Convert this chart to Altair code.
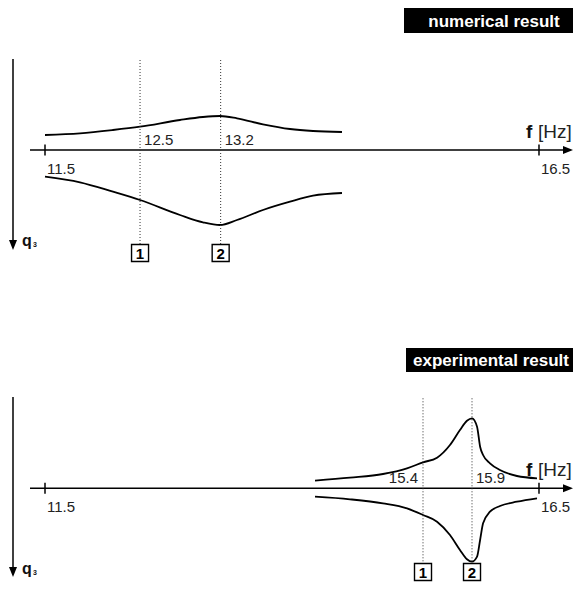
import altair as alt
import pandas as pd

# ---------------- data ----------------
# frequency axis
tick_freqs = [11.5, 16.5]
tick_labels = ["11.5", "16.5"]

# numerical result (top panel): envelope of q3 (arbitrary units, + up)
num_f = [11.5, 11.854, 12.188, 12.462, 12.866, 13.099, 13.271, 13.443, 13.706, 13.980, 14.213, 14.506]
num_upper = [1.5, 1.67, 2.0, 2.33, 3.0, 3.3, 3.4, 3.17, 2.57, 2.1, 1.9, 1.8]
num_lower = [-2.67, -3.23, -4.17, -5.0, -6.5, -7.23, -7.5, -7.0, -6.0, -5.17, -4.57, -4.3]
num_marker_f = [12.462, 13.278]
num_marker_labels = ["12.5", "13.2"]
num_marker_side = ["right", "right"]

# experimental result (bottom panel)
exp_f_up = [14.233, 14.587, 14.921, 15.164, 15.326, 15.468, 15.599, 15.700, 15.771, 15.822,
            15.873, 15.904, 15.934, 16.004, 16.105, 16.277, 16.480]
exp_upper = [0.76, 1.06, 1.43, 2.0, 2.6, 3.06, 4.33, 5.83, 6.76, 7.0,
             6.16, 4.16, 3.33, 2.5, 1.83, 1.23, 1.0]
exp_f_lo = [14.233, 14.587, 14.921, 15.164, 15.326, 15.468, 15.599, 15.700, 15.771, 15.822,
            15.873, 15.904, 15.934, 16.004, 16.105, 16.277, 16.480]
exp_lower = [-0.84, -1.1, -1.5, -2.0, -2.67, -3.34, -4.67, -6.17, -7.1, -7.34,
             -6.84, -5.17, -3.5, -2.34, -1.77, -1.34, -1.0]
exp_marker_f = [15.326, 15.822]
exp_marker_labels = ["15.4", "15.9"]
exp_marker_side = ["left", "right"]

marker_numbers = ["1", "2"]
titles = ["numerical result", "experimental result"]

# ---------------- chart building ----------------
FONT = "Liberation Sans"
W = 565
XMIN, XMAX = 11.1255, 16.8442
xs = alt.Scale(domain=[XMIN, XMAX], nice=False, zero=False, padding=0)

ARROW_DOWN = "M-0.8,-1L0.8,-1L0,1Z"
ARROW_RIGHT = "M-1,-0.8L-1,0.8L1,0Z"


def one():
    return pd.DataFrame({"k": [0]})


def panel(title, f_up, up, f_lo, lo, mk_f, mk_lab, mk_side, height, ydom,
          box_x, box_y0, box_y1, title_x, v_top, v_tip, q_base, mk_top, mk_bot, num_y, lab_y):
    ys = alt.Scale(domain=ydom, nice=False, zero=False, padding=0)
    X = lambda f: alt.X(f, scale=xs, axis=None)

    curves = pd.DataFrame({
        "f": list(f_up) + list(f_lo),
        "q": list(up) + list(lo),
        "branch": ["upper"] * len(f_up) + ["lower"] * len(f_lo),
    })
    markers = pd.DataFrame({"f": mk_f, "label": mk_lab, "side": mk_side, "num": marker_numbers})
    ticks = pd.DataFrame({"f": tick_freqs, "label": tick_labels})

    base_y = alt.Y("q:Q", scale=ys, axis=None)

    layers = []
    # title box
    layers.append(alt.Chart(one()).mark_rect(color="black").encode(
        x=alt.value(box_x), x2=alt.value(W), y=alt.value(box_y0), y2=alt.value(box_y1)))
    layers.append(alt.Chart(pd.DataFrame({"t": [title]})).mark_text(
        color="white", font=FONT, fontWeight="bold", fontSize=17, align="center",
        baseline="middle").encode(
        x=alt.value(title_x), y=alt.value((box_y0 + box_y1) / 2 + 1), text="t:N"))

    # curves (first layer with the y scale defined)
    layers.append(alt.Chart(curves).mark_line(
        interpolate="monotone", color="black", strokeWidth=1.8).encode(
        x=X("f:Q"), y=base_y, detail="branch:N"))

    # frequency axis with arrow
    layers.append(alt.Chart(one()).mark_rule(color="black", strokeWidth=1.5).encode(
        x=alt.value(22), x2=alt.value(558), y=alt.datum(0)))
    layers.append(alt.Chart(one()).mark_point(
        shape=ARROW_RIGHT, filled=True, color="black", size=100, opacity=1).encode(
        x=alt.value(560), y=alt.datum(0)))
    layers.append(alt.Chart(ticks).mark_rule(color="black", strokeWidth=1.5).encode(
        x=X("f:Q"), y=alt.datum(0.55), y2=alt.datum(-0.55)))
    layers.append(alt.Chart(ticks).mark_text(
        align="left", baseline="middle", dx=2, font=FONT, fontSize=15, color="#222").encode(
        x=X("f:Q"), y=alt.datum(lab_y), text="label:N"))

    # axis title f [Hz]
    layers.append(alt.Chart(pd.DataFrame({"t": ["f"]})).mark_text(
        align="left", baseline="alphabetic", font=FONT, fontWeight="bold", fontSize=19,
        color="#111").encode(x=alt.value(518), y=alt.datum(1.2), text="t:N"))
    layers.append(alt.Chart(pd.DataFrame({"t": ["[Hz]"]})).mark_text(
        align="left", baseline="alphabetic", font=FONT, fontSize=19,
        color="#222").encode(x=alt.value(530), y=alt.datum(1.2), text="t:N"))

    # q3 axis arrow
    layers.append(alt.Chart(one()).mark_rule(color="black", strokeWidth=1.5).encode(
        x=alt.value(5), y=alt.value(v_top), y2=alt.value(v_tip - 6)))
    layers.append(alt.Chart(one()).mark_point(
        shape=ARROW_DOWN, filled=True, color="black", size=100, opacity=1).encode(
        x=alt.value(5), y=alt.value(v_tip - 5)))
    layers.append(alt.Chart(pd.DataFrame({"t": ["q"]})).mark_text(
        align="left", baseline="alphabetic", font=FONT, fontWeight="bold", fontSize=16,
        color="#111").encode(x=alt.value(14), y=alt.value(q_base), text="t:N"))
    layers.append(alt.Chart(pd.DataFrame({"t": ["3"]})).mark_text(
        align="left", baseline="alphabetic", font=FONT, fontWeight="bold", fontSize=7,
        color="#111").encode(x=alt.value(25), y=alt.value(q_base + 1), text="t:N"))

    # dotted marker lines
    layers.append(alt.Chart(markers).mark_rule(
        color="#333", strokeWidth=1, strokeDash=[1, 2]).encode(
        x=X("f:Q"), y=alt.datum(mk_top), y2=alt.datum(mk_bot)))
    # marker value labels
    layers.append(alt.Chart(markers).transform_filter(alt.datum.side == "right").mark_text(
        align="left", baseline="middle", dx=4, font=FONT, fontSize=15, color="#222").encode(
        x=X("f:Q"), y=alt.datum(1.0), text="label:N"))
    layers.append(alt.Chart(markers).transform_filter(alt.datum.side == "left").mark_text(
        align="right", baseline="middle", dx=-5, font=FONT, fontSize=15, color="#222").encode(
        x=X("f:Q"), y=alt.datum(1.0), text="label:N"))
    # numbered boxes
    layers.append(alt.Chart(markers).mark_square(
        size=289, fill="white", stroke="black", strokeWidth=1.4, opacity=1).encode(
        x=X("f:Q"), y=alt.datum(num_y)))
    layers.append(alt.Chart(markers).mark_text(
        align="center", baseline="middle", dy=1, font=FONT, fontWeight="bold", fontSize=15,
        color="black").encode(x=X("f:Q"), y=alt.datum(num_y), text="num:N"))

    return alt.layer(*layers).properties(width=W, height=height)


# top panel: local 0 = page y 8, axis at local 142 (10 px per unit)
top = panel(titles[0], num_f, num_upper, num_f, num_lower, num_marker_f, num_marker_labels,
            num_marker_side, height=336, ydom=[-19.4, 14.2], box_x=396, box_y0=0, box_y1=25,
            title_x=486, v_top=51, v_tip=242, q_base=238, mk_top=9.0, mk_bot=-9.5,
            num_y=-10.3, lab_y=-1.9)
# bottom panel: local 0 = page y 344, axis at local 144.3
bottom = panel(titles[1], exp_f_up, exp_upper, exp_f_lo, exp_lower, exp_marker_f,
               exp_marker_labels, exp_marker_side, height=238, ydom=[-9.37, 14.43],
               box_x=398, box_y0=4, box_y1=28, title_x=483, v_top=53, v_tip=233,
               q_base=230, mk_top=9.0, mk_bot=-7.5, num_y=-8.37, lab_y=-1.9)

chart = alt.vconcat(top, bottom, spacing=0).properties(padding=0).configure(
    font=FONT).configure_view(strokeWidth=0, stroke="transparent")

chart.save("out.html", embed_options={"renderer": "svg", "actions": False})
